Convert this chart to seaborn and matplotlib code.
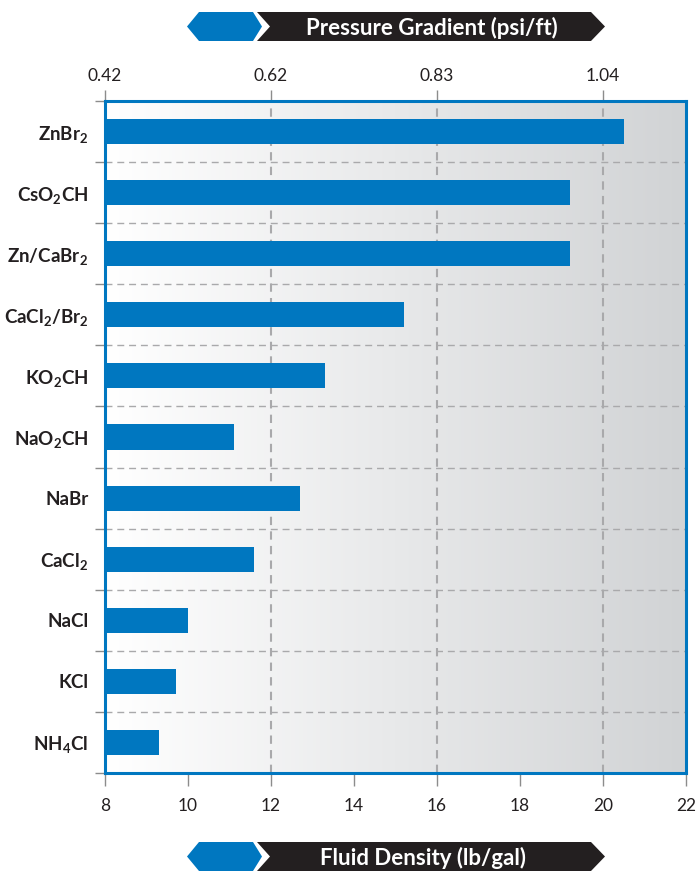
import matplotlib
matplotlib.use("Agg")
import matplotlib.pyplot as plt
import numpy as np
import pandas as pd
import seaborn as sns
from matplotlib.patches import Polygon
from matplotlib.colors import LinearSegmentedColormap

# Brine densities (lb/gal)
fluids = ["ZnBr$\\mathregular{_2}$", "CsO$\\mathregular{_2}$CH", "Zn/CaBr$\\mathregular{_2}$",
          "CaCl$\\mathregular{_2}$/Br$\\mathregular{_2}$", "KO$\\mathregular{_2}$CH",
          "NaO$\\mathregular{_2}$CH", "NaBr", "CaCl$\\mathregular{_2}$", "NaCl", "KCl",
          "NH$\\mathregular{_4}$Cl"]
density = [20.5, 19.2, 19.2, 15.2, 13.3, 11.1, 12.7, 11.6, 10.0, 9.7, 9.3]

density_ticks = [8, 10, 12, 14, 16, 18, 20, 22]
gradient_ticks = [0.416, 0.624, 0.832, 1.04]   # psi/ft
PSI_PER_PPG = 0.052

df = pd.DataFrame({"fluid": fluids, "density": density})

sns.set_theme(style="white")
plt.rcParams["font.family"] = ["Lato", "DejaVu Sans"]

BLUE = "#0077c0"
INK = "#231f20"
GRID = "#a9a9ab"

W, H = 696, 873
fig = plt.figure(figsize=(W / 100, H / 100), dpi=100)
ax = fig.add_axes([105 / W, 1 - 773 / H, 581 / W, 672 / H])

# background gradient: white to light grey
grad = LinearSegmentedColormap.from_list("bg", ["#ffffff", "#d1d3d5"])
ax.imshow(np.linspace(0, 1, 256)[None, :], cmap=grad, aspect="auto",
          extent=[0, 1, 0, 1], transform=ax.transAxes, zorder=0)

sns.barplot(data=df, x="density", y="fluid", orient="h", color=BLUE,
            saturation=1, width=0.41, linewidth=0, edgecolor=BLUE,
            ax=ax, zorder=3)

ax.set_xlim(density_ticks[0], density_ticks[-1])
n = len(fluids)
ax.set_ylim(n - 0.5, -0.5)
ax.set_xlabel("")
ax.set_ylabel("")

# row separators
bounds = np.arange(n + 1) - 0.5
for b in bounds[1:-1]:
    ax.axhline(b, color=GRID, lw=1.0, ls=(0, (5, 3.5)), zorder=1)
ax.set_yticks(bounds, minor=True)
ax.tick_params(axis="y", which="minor", length=7, width=1, color="#8c8c8c",
               direction="out", left=True)
ax.tick_params(axis="y", which="major", length=0, pad=12,
               labelsize=13.5, labelcolor=INK)
for lbl in ax.get_yticklabels():
    lbl.set_fontweight("bold")

# bottom density axis
ax.set_xticks(density_ticks)
ax.tick_params(axis="x", which="major", bottom=True, length=9, width=1,
               color="#8c8c8c", direction="out", labelsize=12.5,
               labelcolor=INK, pad=9)

# top pressure-gradient axis
top = ax.secondary_xaxis("top", functions=(lambda d: d * PSI_PER_PPG,
                                           lambda g: g / PSI_PER_PPG))
top.set_xticks(gradient_ticks)
top.set_xticklabels([f"{g:.2f}" for g in gradient_ticks])
top.tick_params(axis="x", length=8, width=1, color="#8c8c8c", direction="out",
                labelsize=12.5, labelcolor=INK, pad=4)
top.spines["top"].set_visible(False)
for g in gradient_ticks[1:]:
    ax.axvline(g / PSI_PER_PPG, color=GRID, lw=1.5, ls=(0, (4, 3)), zorder=1)

for s in ax.spines.values():
    s.set_color(BLUE)
    s.set_linewidth(2.2)
    s.set_visible(True)
    s.set_zorder(5)


def px(x, y):
    return (x / W, 1 - y / H)


def banner(y0, y1, text, cx):
    ym = (y0 + y1) / 2
    blue = [(187, ym), (199, y0), (253, y0), (262, ym), (253, y1), (199, y1)]
    dark = [(257, y0), (591, y0), (605, ym), (591, y1), (257, y1), (270, ym)]
    fig.patches.append(Polygon([px(*p) for p in blue], closed=True,
                               transform=fig.transFigure, color=BLUE, lw=0))
    fig.patches.append(Polygon([px(*p) for p in dark], closed=True,
                               transform=fig.transFigure, color=INK, lw=0))
    fig.text(*px(cx, ym + 1), text, color="white", fontsize=16,
             fontweight="bold", ha="center", va="center")


banner(12, 41, "Pressure Gradient (psi/ft)", 432)
banner(842, 871, "Fluid Density (lb/gal)", 423)

fig.savefig("out.png", dpi=100)
